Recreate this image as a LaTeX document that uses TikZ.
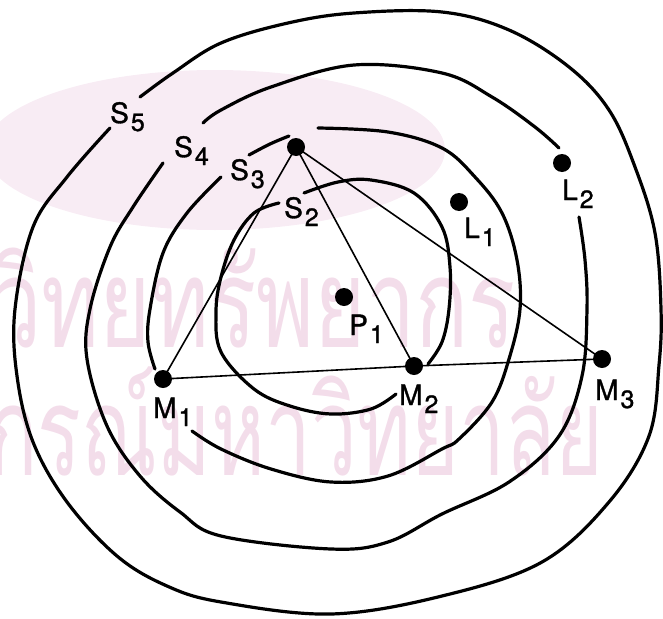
\documentclass[tikz,border=0pt]{standalone}
\usepackage{fontspec}
\setmainfont{TeX Gyre Heros}
\newfontfamily\lblfont[FakeBold=1.2]{TeX Gyre Heros}
\newfontfamily\thaiA[Script=Thai, FakeStretch=0.71]{Loma}
\newfontfamily\thaiB[Script=Thai, FakeStretch=0.66]{Loma}
\definecolor{wmpink}{RGB}{243,221,234}
\tikzset{
  contour/.style={line width=3.2pt, line cap=round, line join=round},
  tri/.style={line width=1.6pt, line cap=round},
  pt/.style={circle, fill=black, inner sep=0pt, minimum size=18pt},
  lbl/.style={anchor=base west, inner sep=0pt, font=\lblfont\fontsize{28}{28}\selectfont},
  wm/.style={text=wmpink, inner sep=0pt, anchor=base west}
}
\newcommand{\subdig}[1]{\kern2pt\raisebox{-8pt}{\fontsize{25}{25}\selectfont #1}}
\begin{document}
\begin{tikzpicture}[x=1pt, y=-1pt]
\useasboundingbox (0,0) rectangle (663,618);
% faint watermark
\fill[wmpink!55] (215,150) ellipse [x radius=230, y radius=80];
\node[wm] (wm1) at (-8,347) {\thaiA\fontsize{124}{124}\selectfont วิทยทรัพยากร};
\node[wm] (wm2) at (-12,475) {\thaiB\fontsize{124}{124}\selectfont กรณ์มหาวิทยาลัย};

% S5 outer contour
\draw[contour] plot[smooth, tension=0.6] coordinates {
 (140,97) (173,73) (221,43) (288,23) (354,13) (442,12) (509,30) (569,67)
 (609,110) (635,167) (655,233) (661,309) (659,365) (649,436) (609,502)
 (542,562) (442,596) (331,614) (221,602) (167,586) (117,556) (67,502)
 (33,442) (17,376) (15,309) (33,227) (67,177) (110,128)};
% S4
\draw[contour] plot[smooth, tension=0.6] coordinates {
 (203,123) (221,110) (271,87) (354,65) (442,73) (492,97) (535,127) (559,148)};
\draw[contour] plot[smooth, tension=0.6] coordinates {
 (579,217) (585,260) (587,309) (582,376) (559,436) (509,482) (442,514)
 (388,542) (331,549) (221,536) (180,512) (140,476) (107,426) (87,359)
 (90,309) (110,247) (133,207) (163,163)};
% S3
\draw[contour] plot[smooth, tension=0.6] coordinates {(249,155) (270,144) (289,136)};
\draw[contour] plot[smooth, tension=0.6] coordinates {
 (318,128) (388,132) (442,148) (475,177) (502,213) (517,260) (520,309)
 (509,359) (492,402) (459,439) (442,449) (388,476) (331,482) (271,469)
 (221,449) (192,431)};
\draw[contour] plot[smooth, tension=0.6] coordinates {
 (221,177) (187,213) (163,253) (150,309) (148,342) (155,369)};
% S2
\draw[contour] plot[smooth, tension=0.6] coordinates {
 (304,193) (338,182) (371,180) (414,193) (442,227) (450,267) (449,309)
 (442,342) (428,364)};
\draw[contour] plot[smooth, tension=0.6] coordinates {
 (279,203) (254,213) (234,240) (221,277) (216,312) (221,352) (254,389)
 (290,406) (331,414) (371,409) (396,394)};

% points
\node[pt] (A)  at (296,147) {};
\node[pt] (M1) at (163,379) {};
\node[pt] (M2) at (414,366) {};
\node[pt] (M3) at (602,359) {};
\node[pt] (P1) at (344,297) {};
\node[pt] (L1) at (459,202) {};
\node[pt] (L2) at (562,163) {};

% triangle
\draw[tri] (A.center) -- (M1.center);
\draw[tri] (A.center) -- (M2.center);
\draw[tri] (A.center) -- (M3.center);
\draw[tri] (M1.center) -- (M2.center);
\draw[tri] (M2.center) -- (M3.center);

% labels
\node[lbl] (tS5) at (110,123) {S\subdig{5}};
\node[lbl] (tS4) at (174,157) {S\subdig{4}};
\node[lbl] (tS3) at (230,180) {S\subdig{3}};
\node[lbl] (tS2) at (284,218) {S\subdig{2}};
\node[lbl] (tL2) at (562,200) {L\subdig{2}};
\node[lbl] (tL1) at (464,238) {L\subdig{1}};
\node[lbl] (tM1) at (153,418) {M\subdig{1}};
\node[lbl] (tM2) at (399,405) {M\subdig{2}};
\node[lbl] (tM3) at (595,400) {M\subdig{3}};
\node[lbl] (tP1) at (349,335) {P\subdig{1}};
\end{tikzpicture}
\end{document}
